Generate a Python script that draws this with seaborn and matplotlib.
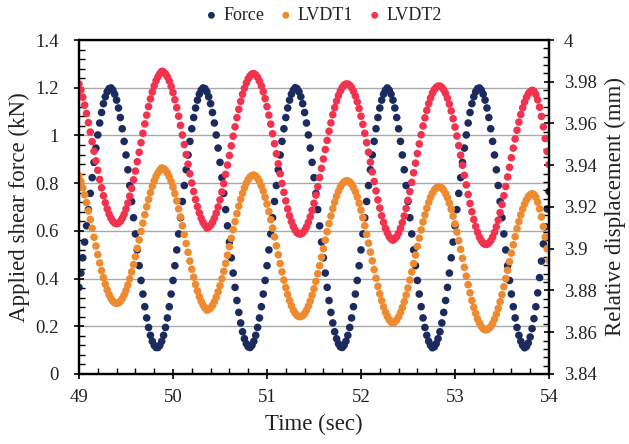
import numpy as np
import pandas as pd
import matplotlib
matplotlib.use("Agg")
import matplotlib.pyplot as plt
from matplotlib import font_manager
from matplotlib.ticker import MultipleLocator, FuncFormatter
import seaborn as sns

# ---------------- data ----------------
t_start = 49.0
t_step = 0.02

force_kN = [
    0.363, 0.423, 0.487, 0.553, 0.621, 0.689, 0.757, 0.823, 0.887, 0.947, 1.002, 1.052, 1.096, 1.133, 1.162, 1.183, 1.196,
    1.199, 1.190, 1.173, 1.148, 1.115, 1.075, 1.028, 0.975, 0.918, 0.856, 0.790, 0.723, 0.655, 0.587, 0.520, 0.454, 0.392, 0.335, 0.282, 0.235, 0.195, 0.162, 0.137, 0.120, 0.111,
    0.111, 0.120, 0.137, 0.162, 0.195, 0.235, 0.282, 0.335, 0.392, 0.454, 0.520, 0.587, 0.655, 0.723, 0.790, 0.856, 0.918, 0.975, 1.028, 1.075, 1.115, 1.148, 1.173, 1.190, 1.199,
    1.196, 1.183, 1.162, 1.133, 1.096, 1.052, 1.002, 0.947, 0.887, 0.823, 0.757, 0.689, 0.621, 0.553, 0.487, 0.423, 0.363, 0.308, 0.258, 0.214, 0.177, 0.148, 0.127, 0.114,
    0.111, 0.120, 0.137, 0.162, 0.195, 0.235, 0.282, 0.335, 0.392, 0.454, 0.520, 0.587, 0.655, 0.723, 0.790, 0.856, 0.918, 0.975, 1.028, 1.075, 1.115, 1.148, 1.173, 1.190,
    1.200, 1.196, 1.183, 1.162, 1.133, 1.096, 1.052, 1.002, 0.947, 0.887, 0.823, 0.757, 0.689, 0.621, 0.553, 0.487, 0.423, 0.363, 0.308, 0.258, 0.214, 0.177, 0.148, 0.127, 0.114,
    0.111, 0.120, 0.137, 0.162, 0.195, 0.235, 0.282, 0.335, 0.392, 0.454, 0.520, 0.587, 0.655, 0.723, 0.790, 0.856, 0.918, 0.975, 1.028, 1.075, 1.115, 1.148, 1.173, 1.190,
    1.199, 1.190, 1.173, 1.148, 1.115, 1.075, 1.028, 0.975, 0.918, 0.856, 0.790, 0.723, 0.655, 0.587, 0.520, 0.454, 0.392, 0.335, 0.282, 0.235, 0.195, 0.162, 0.137, 0.120,
    0.110, 0.114, 0.127, 0.148, 0.177, 0.214, 0.258, 0.308, 0.363, 0.423, 0.487, 0.553, 0.621, 0.689, 0.757, 0.823, 0.887, 0.947, 1.002, 1.052, 1.096, 1.133, 1.162, 1.183, 1.196,
    1.199, 1.190, 1.173, 1.148, 1.115, 1.075, 1.028, 0.975, 0.918, 0.856, 0.790, 0.723, 0.655, 0.587, 0.520, 0.454, 0.392, 0.335, 0.282, 0.235, 0.195, 0.162, 0.137, 0.120,
    0.110, 0.115, 0.130, 0.155, 0.190, 0.232, 0.282, 0.340, 0.404, 0.473, 0.545, 0.617, 0.692, 0.765,
]

lvdt1_mm = [
    3.9350, 3.9323, 3.9292, 3.9258, 3.9221, 3.9181, 3.9140, 3.9098, 3.9055, 3.9013, 3.8972, 3.8932, 3.8895, 3.8861, 3.8830, 3.8803, 3.8780, 3.8762, 3.8749, 3.8741, 3.8738,
    3.8741, 3.8748, 3.8761, 3.8778, 3.8800, 3.8826, 3.8856, 3.8889, 3.8924, 3.8962, 3.9002, 3.9042, 3.9083, 3.9123, 3.9163, 3.9201, 3.9236, 3.9269, 3.9299, 3.9325, 3.9347, 3.9364, 3.9377,
    3.9387, 3.9384, 3.9376, 3.9363, 3.9345, 3.9322, 3.9295, 3.9264, 3.9229, 3.9191, 3.9152, 3.9110, 3.9068, 3.9025, 3.8983, 3.8941, 3.8902, 3.8864, 3.8829, 3.8798, 3.8771, 3.8748, 3.8730, 3.8717,
    3.8706, 3.8709, 3.8716, 3.8729, 3.8746, 3.8768, 3.8794, 3.8823, 3.8856, 3.8892, 3.8930, 3.8969, 3.9010, 3.9050, 3.9091, 3.9130, 3.9168, 3.9204, 3.9237, 3.9266, 3.9292, 3.9314, 3.9331, 3.9344, 3.9351,
    3.9353, 3.9348, 3.9337, 3.9322, 3.9301, 3.9276, 3.9247, 3.9214, 3.9178, 3.9139, 3.9099, 3.9057, 3.9014, 3.8971, 3.8929, 3.8889, 3.8850, 3.8814, 3.8781, 3.8752, 3.8727, 3.8706, 3.8691, 3.8680, 3.8675,
    3.8675, 3.8680, 3.8690, 3.8705, 3.8725, 3.8749, 3.8777, 3.8808, 3.8843, 3.8880, 3.8919, 3.8959, 3.9000, 3.9041, 3.9081, 3.9120, 3.9157, 3.9192, 3.9223, 3.9251, 3.9275, 3.9295, 3.9310, 3.9320, 3.9325,
    3.9325, 3.9320, 3.9309, 3.9293, 3.9273, 3.9248, 3.9218, 3.9185, 3.9149, 3.9110, 3.9069, 3.9027, 3.8984, 3.8942, 3.8900, 3.8859, 3.8820, 3.8784, 3.8751, 3.8721, 3.8696, 3.8676, 3.8660, 3.8649,
    3.8644, 3.8649, 3.8659, 3.8674, 3.8694, 3.8718, 3.8746, 3.8778, 3.8812, 3.8850, 3.8889, 3.8929, 3.8970, 3.9011, 3.9051, 3.9090, 3.9128, 3.9162, 3.9194, 3.9222, 3.9246, 3.9266, 3.9281, 3.9291, 3.9296,
    3.9296, 3.9291, 3.9280, 3.9264, 3.9244, 3.9218, 3.9189, 3.9156, 3.9119, 3.9080, 3.9039, 3.8997, 3.8954, 3.8911, 3.8869, 3.8828, 3.8789, 3.8752, 3.8719, 3.8690, 3.8664, 3.8644, 3.8628, 3.8617, 3.8612,
    3.8612, 3.8617, 3.8627, 3.8642, 3.8662, 3.8686, 3.8714, 3.8746, 3.8780, 3.8818, 3.8857, 3.8897, 3.8938, 3.8979, 3.9019, 3.9058, 3.9096, 3.9130, 3.9162, 3.9190, 3.9214, 3.9234, 3.9249, 3.9259, 3.9264,
    3.9260, 3.9246, 3.9223, 3.9191, 3.9152, 3.9106, 3.9056, 3.9000, 3.8944,
]

lvdt2_mm = [
    3.9789, 3.9760, 3.9726, 3.9688, 3.9648, 3.9604, 3.9559, 3.9513, 3.9467, 3.9421, 3.9376, 3.9332, 3.9292, 3.9254, 3.9220, 3.9191, 3.9166, 3.9146, 3.9132, 3.9123, 3.9120,
    3.9123, 3.9131, 3.9146, 3.9165, 3.9190, 3.9219, 3.9252, 3.9289, 3.9330, 3.9372, 3.9417, 3.9462, 3.9508, 3.9553, 3.9598, 3.9640, 3.9681, 3.9718, 3.9751, 3.9780, 3.9805, 3.9824, 3.9839,
    3.9850, 3.9847, 3.9838, 3.9824, 3.9804, 3.9778, 3.9748, 3.9714, 3.9676, 3.9635, 3.9591, 3.9545, 3.9499, 3.9451, 3.9405, 3.9359, 3.9315, 3.9274, 3.9236, 3.9202, 3.9172, 3.9146, 3.9126, 3.9112,
    3.9100, 3.9103, 3.9112, 3.9126, 3.9146, 3.9171, 3.9200, 3.9234, 3.9272, 3.9312, 3.9356, 3.9401, 3.9447, 3.9493, 3.9539, 3.9584, 3.9628, 3.9668, 3.9706, 3.9740, 3.9769, 3.9794, 3.9814, 3.9828, 3.9837,
    3.9839, 3.9833, 3.9821, 3.9803, 3.9780, 3.9752, 3.9719, 3.9681, 3.9640, 3.9597, 3.9551, 3.9503, 3.9455, 3.9407, 3.9359, 3.9313, 3.9270, 3.9229, 3.9191, 3.9158, 3.9130, 3.9107, 3.9089, 3.9077, 3.9071,
    3.9071, 3.9076, 3.9088, 3.9104, 3.9126, 3.9153, 3.9184, 3.9218, 3.9257, 3.9297, 3.9341, 3.9385, 3.9430, 3.9475, 3.9519, 3.9563, 3.9603, 3.9642, 3.9676, 3.9707, 3.9734, 3.9756, 3.9772, 3.9784, 3.9789,
    3.9789, 3.9783, 3.9772, 3.9754, 3.9732, 3.9704, 3.9672, 3.9635, 3.9596, 3.9553, 3.9508, 3.9462, 3.9415, 3.9368, 3.9322, 3.9277, 3.9234, 3.9195, 3.9158, 3.9126, 3.9098, 3.9076, 3.9058, 3.9047,
    3.9041, 3.9047, 3.9058, 3.9075, 3.9098, 3.9125, 3.9157, 3.9193, 3.9232, 3.9274, 3.9318, 3.9364, 3.9410, 3.9456, 3.9502, 3.9546, 3.9588, 3.9627, 3.9663, 3.9695, 3.9722, 3.9745, 3.9762, 3.9773, 3.9779,
    3.9779, 3.9773, 3.9761, 3.9744, 3.9721, 3.9693, 3.9660, 3.9623, 3.9583, 3.9540, 3.9494, 3.9448, 3.9400, 3.9352, 3.9306, 3.9260, 3.9217, 3.9177, 3.9140, 3.9107, 3.9079, 3.9056, 3.9039, 3.9027, 3.9021,
    3.9021, 3.9027, 3.9038, 3.9055, 3.9078, 3.9105, 3.9137, 3.9173, 3.9212, 3.9254, 3.9298, 3.9344, 3.9390, 3.9436, 3.9482, 3.9526, 3.9568, 3.9607, 3.9643, 3.9675, 3.9702, 3.9725, 3.9742, 3.9753, 3.9759,
    3.9755, 3.9739, 3.9713, 3.9678, 3.9634, 3.9584, 3.9528, 3.9466, 3.9404,
]

series_names = ["Force", "LVDT1", "LVDT2"]
series_colors = ["#1c2b5e", "#ee8a2f", "#f2334f"]
x_ticks = [49, 50, 51, 52, 53, 54]


def times(vals):
    return np.round(t_start + t_step * np.arange(len(vals)), 2)


df_force = pd.DataFrame({"t": times(force_kN), "v": force_kN})
df_l1 = pd.DataFrame({"t": times(lvdt1_mm), "v": lvdt1_mm})
df_l2 = pd.DataFrame({"t": times(lvdt2_mm), "v": lvdt2_mm})

# ---------------- style ----------------
sns.set_theme(style="white")

serif_name = "DejaVu Serif"
for cand in ["Liberation Serif", "Times New Roman", "Nimbus Roman", "FreeSerif"]:
    try:
        font_manager.findfont(font_manager.FontProperties(family=cand), fallback_to_default=False)
        serif_name = cand
        break
    except Exception:
        pass
plt.rcParams["font.family"] = [serif_name, "DejaVu Serif"]
plt.rcParams["axes.edgecolor"] = "black"

fig = plt.figure(figsize=(6.29, 4.44), dpi=100)
ax = fig.add_axes([0.1256, 0.1577, 0.7472, 0.7522])
ax2 = ax.twinx()

ms = 30
sns.scatterplot(data=df_force, x="t", y="v", ax=ax, color=series_colors[0], s=ms,
                edgecolor="none", linewidth=0, label=series_names[0], legend=False)
sns.scatterplot(data=df_l1, x="t", y="v", ax=ax2, color=series_colors[1], s=ms,
                edgecolor="none", linewidth=0, label=series_names[1], legend=False)
sns.scatterplot(data=df_l2, x="t", y="v", ax=ax2, color=series_colors[2], s=ms,
                edgecolor="none", linewidth=0, label=series_names[2], legend=False)

ax.set_xlim(49, 54)
ax.set_ylim(0, 1.4)
ax2.set_ylim(3.84, 4.0)

ax.set_xticks(x_ticks)
ax.xaxis.set_minor_locator(MultipleLocator(0.2))
ax.yaxis.set_major_locator(MultipleLocator(0.2))
ax.yaxis.set_minor_locator(MultipleLocator(0.04))
ax2.yaxis.set_major_locator(MultipleLocator(0.02))
ax2.yaxis.set_minor_locator(MultipleLocator(0.004))


def fmt(v, pos):
    s = f"{v:.2f}".rstrip("0").rstrip(".")
    return s


ax.yaxis.set_major_formatter(FuncFormatter(fmt))
ax2.yaxis.set_major_formatter(FuncFormatter(fmt))
ax.xaxis.set_major_formatter(FuncFormatter(lambda v, p: f"{int(round(v))}"))

ax.yaxis.grid(True, color="#a9a9a9", linewidth=1.0)
ax.xaxis.grid(False)
ax.set_axisbelow(True)

for a in (ax, ax2):
    for sp in a.spines.values():
        sp.set_color("black")
        sp.set_linewidth(1.6)
    a.tick_params(which="major", direction="inout", length=7, width=1.2,
                  colors="black", labelsize=13.5, labelcolor="#222222")
    a.tick_params(which="minor", direction="in", length=4, width=1.0, colors="black")
ax.tick_params(axis="x", which="both", bottom=True, top=False)
ax.tick_params(axis="x", which="major", pad=7)
ax.tick_params(axis="y", which="both", left=True, right=False)
ax.tick_params(axis="y", which="major", pad=11)
ax2.tick_params(axis="y", which="both", right=True, left=False)
ax2.tick_params(axis="y", which="major", pad=7)
ax.spines["top"].set_color("#555555")

ax.set_xlabel("Time (sec)", fontsize=16.5, color="#222222", labelpad=6)
ax.set_ylabel("Applied shear force (kN)", fontsize=16.5, color="#222222", labelpad=4)
ax2.set_ylabel("Relative displacement (mm)", fontsize=16.5, color="#222222", labelpad=6)

h1, l1 = ax.get_legend_handles_labels()
h2, l2 = ax2.get_legend_handles_labels()
fig.legend(h1 + h2, l1 + l2, loc="center", bbox_to_anchor=(0.515, 0.965), ncol=3,
           frameon=False, fontsize=13, handlelength=0.6, handletextpad=0.35,
           columnspacing=0.9, markerscale=0.9, labelcolor="#222222")

fig.savefig("out.png", dpi=100)
